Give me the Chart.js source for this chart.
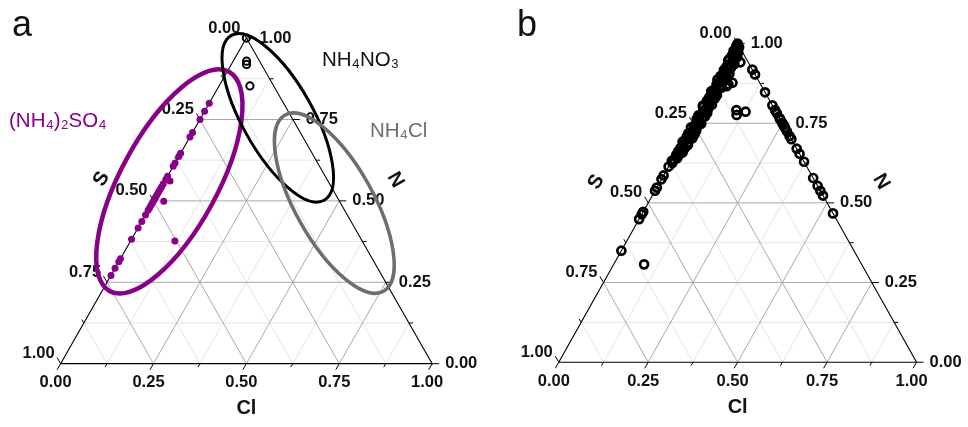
<!DOCTYPE html>
<html>
<head>
<meta charset="utf-8">
<script src="https://cdn.jsdelivr.net/npm/chart.js@4.4.0/dist/chart.umd.min.js"></script>
<style>
  body { margin: 0; background: #fff; }
  .panel { position: absolute; top: 0; width: 484px; height: 427px; }
</style>
</head>
<body>
<div class="panel" style="left:0"><canvas id="ternaryA"></canvas></div>
<div class="panel" style="left:484px"><canvas id="ternaryB"></canvas></div>
<script>
// axis ticks, shared by S, N and Cl
const tickValues = [0, 0.25, 0.5, 0.75, 1];
const tickLabels = ['0.00', '0.25', '0.50', '0.75', '1.00'];
const minorTicks = [0.125, 0.375, 0.625, 0.875];

// panel a - (NH4)2SO4 samples: N and Cl fractions (S = 1 - N - Cl)
const sulfateN = [0.800, 0.775, 0.750, 0.710, 0.696, 0.646, 0.636, 0.616, 0.606, 0.576, 0.566,
  0.561, 0.552, 0.543, 0.535, 0.527, 0.519, 0.511, 0.503, 0.499, 0.495, 0.487, 0.479, 0.471,
  0.457, 0.437, 0.417, 0.382, 0.377, 0.322, 0.313, 0.293, 0.271];
const sulfateCl = [0, 0, 0, 0, 0, 0, 0, 0, 0, 0, 0,
  0.014, 0, 0, 0, 0, 0, 0, 0, 0.028, 0, 0, 0, 0,
  0, 0, 0, 0, 0.119, 0, 0, 0, 0];

// panel a - NH4NO3 samples
const nitrateN = [1.0, 0.929, 0.919, 0.853];
const nitrateCl = [0, 0.036, 0.041, 0.083];

// panel b - samples on the S-N side (dense band near the N corner)
const bandN = [0.992, 0.985, 0.977, 0.970, 0.962, 0.955, 0.947, 0.940, 0.932, 0.925,
  0.917, 0.910, 0.902, 0.895, 0.887, 0.880, 0.872, 0.865, 0.857, 0.850,
  0.842, 0.835, 0.827, 0.820, 0.812, 0.805, 0.797, 0.790, 0.782, 0.775,
  0.767, 0.760, 0.752, 0.745, 0.737, 0.730, 0.722, 0.715, 0.707, 0.700,
  0.692, 0.685, 0.677, 0.670, 0.662, 0.655, 0.647, 0.640, 0.632, 0.625];
const bandCl = [0, 0.005, 0, 0.008, 0.003, 0.012, 0, 0.016, 0.007, 0.019,
  0.003, 0.014, 0.008, 0.022, 0, 0.017, 0.005, 0.021, 0.011, 0.001,
  0.018, 0.008, 0.022, 0.004, 0.015, 0, 0.020, 0.010, 0.024, 0.003,
  0.017, 0.007, 0.021, 0.012, 0.001, 0.018, 0.008, 0.022, 0.004, 0.015,
  0, 0.019, 0.010, 0.016, 0.003, 0.013, 0.007, 0.011, 0, 0.005];
const bandN2 = [0.996, 0.988, 0.981, 0.973, 0.966, 0.958, 0.951, 0.943, 0.936, 0.928,
  0.921, 0.913, 0.906, 0.898, 0.891, 0.883, 0.876, 0.868, 0.861, 0.853,
  0.846, 0.838, 0.831, 0.823, 0.816, 0.808, 0.801, 0.793, 0.786, 0.778,
  0.771, 0.763, 0.756, 0.748, 0.741, 0.733, 0.726, 0.718, 0.711, 0.703,
  0.696, 0.688, 0.681, 0.673, 0.666, 0.658, 0.651, 0.643, 0.636];
const bandCl2 = [0.002, 0.010, 0.004, 0.015, 0.008, 0.020, 0.001, 0.013, 0.023, 0.005,
  0.018, 0.009, 0.024, 0.003, 0.015, 0.022, 0.006, 0.016, 0.024, 0.004,
  0.012, 0.023, 0.005, 0.019, 0.011, 0.024, 0.003, 0.015, 0.020, 0.008,
  0.023, 0.004, 0.014, 0.024, 0.007, 0.018, 0.021, 0.003, 0.012, 0.022,
  0.005, 0.016, 0.020, 0.004, 0.013, 0.017, 0.003, 0.009, 0.004];
const leftN = [0.614, 0.586, 0.574, 0.548, 0.538, 0.472, 0.464, 0.449, 0.350];
const leftCl = [0, 0, 0, 0, 0, 0, 0, 0, 0];

// panel b - samples inside the triangle
const innerN = [1.0, 0.941, 0.872, 0.877, 0.866, 0.791, 0.776, 0.786, 0.307];
const innerCl = [0, 0.037, 0.038, 0.047, 0.036, 0.101, 0.109, 0.129, 0.085];

// panel b - samples on the N-Cl side
const rightN = [0.918, 0.903, 0.847, 0.806, 0.791, 0.781, 0.766, 0.761, 0.751, 0.745, 0.736,
  0.725, 0.710, 0.700, 0.670, 0.654, 0.629, 0.578, 0.553, 0.538, 0.523, 0.467];
const rightCl = [0.082, 0.097, 0.153, 0.194, 0.209, 0.219, 0.234, 0.239, 0.249, 0.255, 0.264,
  0.275, 0.290, 0.300, 0.330, 0.346, 0.371, 0.422, 0.447, 0.462, 0.477, 0.533];

const SQ3 = Math.sqrt(3);
// ternary (N, Cl) -> cartesian, N at the top corner, Cl at the bottom right
function toXY(n, cl) {
  return { x: cl + n / 2, y: n * SQ3 / 2 };
}
function points(ns, cls) {
  return ns.map((n, i) => toXY(n, cls[i]));
}

const FONT = '"Liberation Sans", Arial, sans-serif';

// extra drawing per panel
const decor = {
  ternaryA: {
    letter: 'a', letterX: 12,
    sPos: [-52, -22], nPos: [56, -21],
    ellipses: [
      { n: 0.5597, cl: 0.0128, a: 0.336, b: 0.13, rot: -61.5, color: '#880088', width: 4.5 },
      { n: 0.7552, cl: 0.2069, a: 0.2546, b: 0.095, rot: 60.6, color: '#000000', width: 3 },
      { n: 0.4931, cl: 0.4901, a: 0.2717, b: 0.105, rot: 60.8, color: '#6e6e6e', width: 3.5 }
    ],
    notes: [
      { text: 'NH\u2084NO\u2083', x: 322, y: 60, color: '#111' },
      { text: '(NH\u2084)\u2082SO\u2084', x: 9, y: 121, color: '#880088' },
      { text: 'NH\u2084Cl', x: 370, y: 131, color: '#6e6e6e' }
    ]
  },
  ternaryB: {
    letter: 'b', letterX: 33,
    sPos: [-52, -21], nPos: [54, -21],
    ellipses: [],
    notes: []
  }
};

function label(ctx, str, x, y, font, color, align, rot, baseline) {
  ctx.save();
  ctx.translate(x, y);
  if (rot) ctx.rotate(rot);
  ctx.font = font;
  ctx.fillStyle = color;
  ctx.textAlign = align;
  ctx.textBaseline = baseline || 'middle';
  ctx.fillText(str, 0, 0);
  ctx.restore();
}

const ternaryFrame = {
  id: 'ternaryFrame',
  beforeDatasetsDraw(chart) {
    const ctx = chart.ctx;
    const xs = chart.scales.x, ys = chart.scales.y;
    const P = (n, cl) => { const p = toXY(n, cl); return [xs.getPixelForValue(p.x), ys.getPixelForValue(p.y)]; };
    const line = (a, b, color, w) => {
      ctx.beginPath(); ctx.moveTo(a[0], a[1]); ctx.lineTo(b[0], b[1]);
      ctx.strokeStyle = color; ctx.lineWidth = w; ctx.stroke();
    };
    const gridAt = (v, color) => {
      line(P(v, 0), P(v, 1 - v), color, 1);      // constant N
      line(P(0, v), P(1 - v, v), color, 1);      // constant Cl
      line(P(0, 1 - v), P(1 - v, 0), color, 1);  // constant S
    };
    ctx.save();
    minorTicks.forEach(v => gridAt(v, '#e4e4e4'));
    [0.25, 0.5, 0.75].forEach(v => gridAt(v, '#a8a8a8'));

    // triangle
    const top = P(1, 0), left = P(0, 0), right = P(0, 1);
    ctx.beginPath();
    ctx.moveTo(top[0], top[1]); ctx.lineTo(left[0], left[1]); ctx.lineTo(right[0], right[1]); ctx.closePath();
    ctx.strokeStyle = '#000'; ctx.lineWidth = 1.1; ctx.stroke();

    // ticks
    const ticks = (v, len) => {
      const b = P(0, v), r = P(v, 1 - v), l = P(1 - v, 0);
      line(b, [b[0] - 0.5 * len, b[1] + 0.866 * len], '#000', 1);
      line(r, [r[0] + len, r[1]], '#000', 1);
      line(l, [l[0] - 0.5 * len, l[1] - 0.866 * len], '#000', 1);
    };
    minorTicks.forEach(v => ticks(v, 4));
    tickValues.forEach(v => ticks(v, 7));

    const font = 'bold 16.5px ' + FONT;
    tickValues.forEach((v, i) => {
      const b = P(0, v), r = P(v, 1 - v), l = P(1 - v, 0);
      label(ctx, tickLabels[i], b[0] - 5, b[1] + 19, font, '#111', 'center');
      label(ctx, tickLabels[i], r[0] + 13, r[1], font, '#111', 'left');
      label(ctx, tickLabels[i], l[0] - 6, l[1] - 10, font, '#111', 'right');
    });

    // axis titles
    const d = decor[chart.canvas.id];
    const titleFont = 'bold 20px ' + FONT;
    const midB = P(0, 0.5), midL = P(0.5, 0), midR = P(0.5, 0.5);
    label(ctx, 'Cl', midB[0], midB[1] + 45, titleFont, '#111', 'center');
    label(ctx, 'S', midL[0] + d.sPos[0], midL[1] + d.sPos[1], titleFont, '#111', 'center', -Math.PI / 3);
    label(ctx, 'N', midR[0] + d.nPos[0], midR[1] + d.nPos[1], titleFont, '#111', 'center', Math.PI / 3);

    label(ctx, d.letter, d.letterX, 36, '36px ' + FONT, '#111', 'left', 0, 'alphabetic');
    ctx.restore();
  },
  afterDatasetsDraw(chart) {
    const ctx = chart.ctx;
    const xs = chart.scales.x, ys = chart.scales.y;
    const d = decor[chart.canvas.id];
    const unit = xs.getPixelForValue(1) - xs.getPixelForValue(0);
    ctx.save();
    d.ellipses.forEach(e => {
      const c = toXY(e.n, e.cl);
      ctx.beginPath();
      ctx.ellipse(xs.getPixelForValue(c.x), ys.getPixelForValue(c.y), e.a * unit, e.b * unit,
        e.rot * Math.PI / 180, 0, 2 * Math.PI);
      ctx.strokeStyle = e.color; ctx.lineWidth = e.width; ctx.stroke();
    });
    d.notes.forEach(t => {
      label(ctx, t.text, t.x, t.y, '20.5px ' + FONT, t.color, 'left');
    });
    ctx.restore();
  }
};

function makeChart(id, datasets, xRange, yRange) {
  return new Chart(document.getElementById(id), {
    type: 'scatter',
    data: { datasets },
    plugins: [ternaryFrame],
    options: {
      animation: false,
      responsive: true,
      maintainAspectRatio: false,
      layout: { padding: 0 },
      plugins: { legend: { display: false }, tooltip: { enabled: false } },
      scales: {
        x: { type: 'linear', min: xRange[0], max: xRange[1], display: false },
        y: { type: 'linear', min: yRange[0], max: yRange[1], display: false }
      }
    }
  });
}

const openCircle = {
  pointStyle: 'circle',
  pointRadius: 3.6,
  pointBorderWidth: 2,
  pointBackgroundColor: 'rgba(0,0,0,0)',
  pointBorderColor: '#000'
};
const openCircleB = Object.assign({}, openCircle, { pointRadius: 4, pointBorderWidth: 2.7 });

makeChart('ternaryA', [
  Object.assign({ label: 'NH4NO3', data: points(nitrateN, nitrateCl) }, openCircle),
  {
    label: '(NH4)2SO4',
    data: points(sulfateN, sulfateCl),
    pointRadius: 3.5,
    pointBorderWidth: 0,
    pointBackgroundColor: '#880088'
  }
], [-0.14698, 1.12336], [-0.1525, 0.9514]);

makeChart('ternaryB', [
  Object.assign({ label: 'band', data: points(bandN, bandCl) }, openCircleB),
  Object.assign({ label: 'band2', data: points(bandN2, bandCl2) }, openCircleB),
  Object.assign({ label: 'left', data: points(leftN, leftCl) }, openCircleB),
  Object.assign({ label: 'inner', data: points(innerN, innerCl) }, openCircleB),
  Object.assign({ label: 'right', data: points(rightN, rightCl) }, openCircleB)
], [-0.19022, 1.125], [-0.1579, 0.9661]);
</script>
</body>
</html>
